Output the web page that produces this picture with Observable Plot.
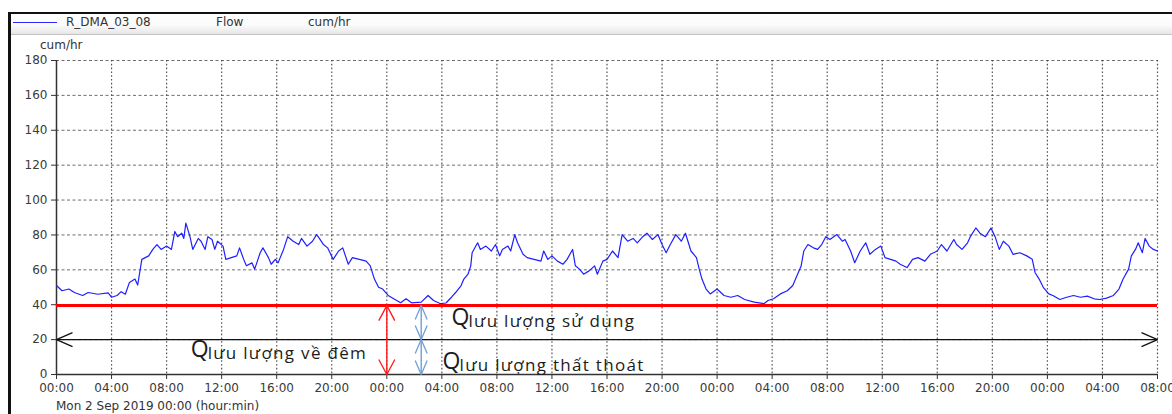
<!DOCTYPE html>
<html>
<head>
<meta charset="utf-8">
<script src="https://cdn.jsdelivr.net/npm/d3@7"></script>
<script src="https://cdn.jsdelivr.net/npm/@observablehq/plot@0.6"></script>
<style>
  body { margin: 0; background: #fff; }
  #wrap { position: relative; width: 1172px; height: 414px; overflow: hidden; font-family: "DejaVu Sans", sans-serif; color: #3a3a3a; }
  #wrap svg { position: absolute; left: 0; top: 0; }
  .frame-top { position: absolute; left: 8px; right: 0; top: 12px; height: 2px; background: #111; }
  .frame-left { position: absolute; left: 8px; top: 12px; bottom: 0; width: 2.5px; background: #111; }
  .header { position: absolute; left: 10px; right: 0; top: 14px; height: 20px;
            background: linear-gradient(#ffffff 0%, #fbfbfb 55%, #e6e6e6 100%); border-bottom: 1px solid #c4c4c4; }
  .swatch { position: absolute; left: 13px; top: 22px; width: 44px; height: 1px; background: #2a2aff; }
  .htext { position: absolute; top: 15px; font-size: 12px; line-height: 14px; color: #333; white-space: nowrap; }
  .ylabel { position: absolute; left: 40px; top: 38px; font-size: 12px; color: #333; }
  .xlabel { position: absolute; left: 56px; top: 399px; font-size: 12px; color: #333; white-space: nowrap; }
</style>
</head>
<body>
<div id="wrap">
  <div class="header"></div>
  <div class="frame-top"></div>
  <div class="frame-left"></div>
  <div class="swatch"></div>
  <div class="htext" id="seriesName" style="left:66px"></div>
  <div class="htext" id="seriesKind" style="left:216px"></div>
  <div class="htext" id="seriesUnit" style="left:308px"></div>
  <div class="ylabel" id="yUnit"></div>
  <div class="xlabel" id="xStart"></div>
</div>
<script>
// Series metadata
const seriesName = "R_DMA_03_08";
const seriesKind = "Flow";
const unit = "cum/hr";
const startLabel = "Mon 2 Sep 2019 00:00 (hour:min)";

// Flow readings: hours since Mon 2 Sep 2019 00:00, and flow in cum/hr
const hours = [
  0, 0.4, 0.9, 1.3, 1.9, 2.3, 3, 3.75, 4, 4.4, 4.7, 5, 5.3, 5.7, 5.9, 6.2, 6.7, 7, 7.3, 7.6,
  8, 8.35, 8.6, 8.8, 9.1, 9.25, 9.4, 9.7, 9.9, 10.3, 10.5, 10.8, 11, 11.3, 11.5, 11.7, 12.1, 12.3, 12.7, 13.1,
  13.3, 13.6, 13.8, 14.2, 14.4, 14.8, 15, 15.4, 15.6, 15.9, 16.1, 16.5, 16.8, 17.2, 17.6, 17.8, 18.2, 18.6, 18.9, 19.1,
  19.4, 19.7, 20.1, 20.5, 20.8, 21.2, 21.5, 22, 22.5, 22.8, 23.1, 23.4, 23.7, 24.1, 24.5, 25, 25.4, 25.8, 26.5, 27,
  27.4, 27.9, 28.3, 28.7, 29, 29.4, 29.6, 29.9, 30.1, 30.2, 30.6, 30.8, 31.2, 31.6, 31.9, 32.2, 32.4, 32.8, 33, 33.3,
  33.5, 33.9, 34.2, 34.7, 35.2, 35.4, 35.7, 36, 36.4, 36.8, 37.1, 37.5, 37.7, 38, 38.3, 38.7, 39.1, 39.3, 39.7, 40,
  40.4, 40.8, 41.1, 41.5, 41.9, 42.2, 42.6, 42.9, 43.3, 43.7, 44, 44.3, 44.6, 45, 45.4, 45.7, 46.1, 46.5, 46.7, 46.9,
  47.2, 47.5, 48, 48.5, 49, 49.5, 50, 50.7, 51.4, 51.7, 52.1, 52.6, 53.1, 53.5, 53.8, 54.1, 54.3, 54.6, 55, 55.3,
  55.6, 55.9, 56.2, 56.7, 57.1, 57.3, 57.7, 58, 58.4, 58.8, 59.1, 59.5, 59.9, 60.2, 60.6, 61, 61.3, 61.8, 62.2, 62.6,
  63.1, 63.5, 64, 64.3, 64.7, 65.2, 65.4, 65.8, 66.2, 66.4, 66.8, 67.1, 67.5, 67.9, 68.2, 68.5, 68.8, 69.2, 69.5, 70,
  70.5, 70.9, 71.1, 71.4, 71.7, 72.1, 72.4, 72.9, 73.4, 73.9, 74.4, 74.9, 75.4, 75.8, 76.3, 76.8, 77.2, 77.5, 77.9, 78.1,
  78.4, 78.6, 78.9, 79.1, 79.4, 79.7, 80
];
const flow = [
  51, 48, 49, 47, 45.3, 47, 46, 46.8, 44.3, 45.3, 47.5, 46, 52.8, 54.7, 51.3, 66, 68, 71.7, 74.5, 71.7,
  73.6, 71.7, 82, 79, 81, 78, 86.8, 79, 71.7, 78, 76.4, 71.7, 79, 77.4, 71.7, 76.4, 73.6, 66, 67, 68,
  72.6, 66, 62.3, 64, 60.4, 69.8, 72.6, 67, 63.2, 66, 64, 71.7, 79, 76.4, 74.5, 78, 73.6, 76.4, 80.2, 78,
  74.5, 72.6, 66, 70.8, 72.6, 63.2, 67, 66, 65, 62.3, 54.7, 50, 49, 45.3, 43.4, 41.1, 43.4, 41.1, 41.5, 45.3,
  42.4, 40.6, 41, 44.3, 47, 51, 54.7, 57.5, 62.3, 69.8, 75.5, 71.7, 73.6, 70.8, 74.5, 68, 71.7, 73.6, 70.8, 80.2,
  75.5, 68.9, 67, 66, 65, 70.8, 66, 68, 65, 63.2, 66, 71.7, 62.3, 60.4, 57.5, 59.4, 62.3, 57.5, 65, 66,
  70.8, 67, 80.2, 76.4, 78, 75.5, 79, 81, 77.4, 80.2, 74.5, 69.8, 74.5, 80.2, 76.4, 81, 70.8, 67, 60.4, 54.7,
  49, 46.2, 49, 45.3, 44.3, 45.3, 43, 41.5, 40.6, 42.4, 43.4, 46.2, 48, 51, 56.6, 62, 70.8, 74.5, 72.6, 71.7,
  74.5, 79, 77.4, 80.2, 76.4, 77.4, 70.8, 64.1, 70.8, 75.5, 68.9, 71.7, 73.6, 67, 66, 65, 63.2, 61.3, 66, 67,
  65, 68.9, 70.8, 74.5, 70.8, 77.4, 74.5, 71.7, 75.5, 79, 84, 81, 79, 84, 79, 71.7, 76.4, 73.6, 68.9, 69.8,
  68, 66, 58.5, 54.7, 50, 46.2, 45.3, 43, 44.3, 45.3, 44.3, 44.9, 43.4, 43, 43.8, 45.3, 49, 54.7, 60.4, 68,
  71.7, 75.5, 69.8, 78, 73.6, 71.7, 70.8
];

// Axis ticks
const xTicks = d3.range(0, 81, 4);
const yTicks = d3.range(0, 181, 20);

// Minimum night flow level
const minNightFlow = [39.5];

// Double-headed guide arrows (hour, flow from -> to)
const arrowX1 = [0, 24, 26.5, 26.5];
const arrowX2 = [80, 24, 26.5, 26.5];
const arrowY1 = [20, 0, 39.5, 20];
const arrowY2 = [20, 39.5, 20, 0];
const arrowKind = ["total", "night", "loss", "loss"];

// Annotation labels: Q with a subscript description
const labelHour = [9.75, 28.7, 28.05];
const labelFlow = [10.2, 28.3, 3.3];
const labelSub = ["lưu lượng về đêm", "lưu lượng sử dụng", "lưu lượng thất thoát"];

document.getElementById("seriesName").textContent = seriesName;
document.getElementById("seriesKind").textContent = seriesKind;
document.getElementById("seriesUnit").textContent = unit;
document.getElementById("yUnit").textContent = unit;
document.getElementById("xStart").textContent = startLabel;

const readings = hours.map((h, i) => ({hour: h, flow: flow[i]}));
const arrows = arrowX1.map((x1, i) => ({x1, x2: arrowX2[i], y1: arrowY1[i], y2: arrowY2[i], kind: arrowKind[i]}));
const labels = labelHour.map((h, i) => ({hour: h, flow: labelFlow[i], sub: labelSub[i]}));

const arrowColor = {total: "#111111", night: "#ff1a1a", loss: "#6f9fd6"};
const headSize = {total: [16, 7], night: [15, 8], loss: [14, 6]};

// Open V-shaped arrowhead marker
function vHead(len, half) {
  return (color) => {
    const ns = "http://www.w3.org/2000/svg";
    const m = document.createElementNS(ns, "marker");
    m.setAttribute("viewBox", `${-len - 2} ${-half - 2} ${len + 4} ${2 * half + 4}`);
    m.setAttribute("markerUnits", "userSpaceOnUse");
    m.setAttribute("markerWidth", len + 4);
    m.setAttribute("markerHeight", 2 * half + 4);
    m.setAttribute("orient", "auto-start-reverse");
    m.setAttribute("overflow", "visible");
    m.setAttribute("refX", 0);
    m.setAttribute("refY", 0);
    const p = document.createElementNS(ns, "path");
    p.setAttribute("d", `M${-len},${-half}L0,0L${-len},${half}`);
    p.setAttribute("fill", "none");
    p.setAttribute("stroke", color);
    p.setAttribute("stroke-width", 1.3);
    m.appendChild(p);
    return m;
  };
}

const fmt = (h) => String(h % 24).padStart(2, "0") + ":00";

const arrowMarks = Object.keys(arrowColor).map((k) =>
  Plot.link(arrows.filter((d) => d.kind === k), {
    x1: "x1", x2: "x2", y1: "y1", y2: "y2",
    stroke: arrowColor[k], strokeWidth: k === "total" ? 1.3 : 1.4,
    markerStart: vHead(...headSize[k]), markerEnd: vHead(...headSize[k])
  })
);

const chart = Plot.plot({
  width: 1172,
  height: 414,
  marginLeft: 56,
  marginRight: 15,
  marginTop: 60,
  marginBottom: 40,
  style: {fontFamily: "DejaVu Sans, sans-serif", fontSize: "12px", color: "#3a3a3a", background: "transparent"},
  x: {domain: [0, 80]},
  y: {domain: [0, 180]},
  marks: [
    // grid
    Plot.ruleY(yTicks.filter((t) => t > 0), {stroke: "#555", strokeWidth: 1, strokeDasharray: "3,2.5", strokeOpacity: 0.85}),
    Plot.ruleX(xTicks.filter((t) => t > 0), {stroke: "#444", strokeWidth: 1.2, strokeDasharray: "1.6,2.2", strokeOpacity: 0.9}),
    // axes
    Plot.axisY(yTicks, {ticks: yTicks, tickSize: 5, tickPadding: 4, label: null, stroke: "#333"}),
    Plot.axisX(xTicks, {ticks: xTicks, tickSize: 5, tickPadding: 4, label: null, tickFormat: fmt, stroke: "#333"}),
    Plot.ruleX([0], {stroke: "#333", strokeWidth: 1.5}),
    Plot.ruleY([0], {stroke: "#333", strokeWidth: 1.5}),
    // flow series
    Plot.line(readings, {x: "hour", y: "flow", stroke: "#1f1fff", strokeWidth: 1.2}),
    // minimum night flow level
    Plot.ruleY(minNightFlow, {x1: 0, x2: 80, stroke: "#ff0000", strokeWidth: 3}),
    ...arrowMarks,
    // annotations
    Plot.text(labels, {x: "hour", y: "flow", text: () => "Q", textAnchor: "start", lineAnchor: "bottom",
      fontFamily: "Open Sans, sans-serif", fontSize: 23, fill: "#1c1c1c"}),
    Plot.text(labels, {x: "hour", y: "flow", text: "sub", textAnchor: "start", lineAnchor: "bottom", dx: 17, dy: 2,
      fontFamily: "Open Sans, sans-serif", fontSize: 17, fill: "#1c1c1c"})
  ]
});

// widen the subscript lettering a little
d3.select(chart).selectAll('g[font-size="17"]').attr("letter-spacing", 1.3);

document.getElementById("wrap").prepend(chart);
</script>
</body>
</html>
